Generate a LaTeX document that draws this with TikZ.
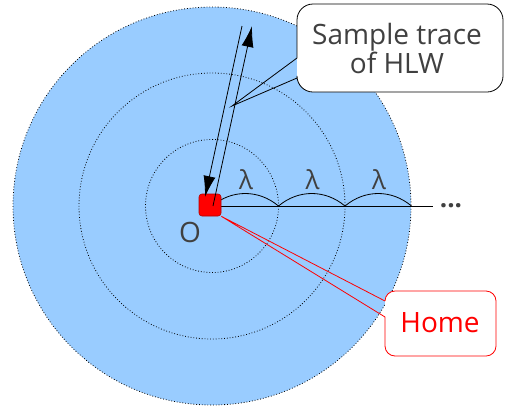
\documentclass[tikz,border=0pt]{standalone}
\usepackage{fontspec}
\usepackage{tikz}
\usetikzlibrary{arrows.meta,calc,positioning}
\newfontfamily\labelfont{Open Sans}

\begin{document}
\begin{tikzpicture}[x=1pt,y=-1pt,
  ring/.style={black, line width=0.8pt, dotted},
  hop/.style={black, line width=0.8pt},
  walk/.style={black, line width=0.8pt, -{Latex[length=21pt,width=12pt]}},
  bubble/.style={draw=black, line width=0.8pt},
  homebubble/.style={draw=homered, line width=0.8pt},
  txt/.style={font=\labelfont\fontsize{28}{29}\selectfont, text=textgray, align=center}]
% Home-locating walk (HLW) sketch: rings of radius lambda round the
% origin O, one sample trace going out and back, two callouts.
\definecolor{area}{RGB}{153, 204, 255}
\definecolor{homered}{RGB}{255, 0, 0}
\definecolor{textgray}{RGB}{64, 64, 64}
\useasboundingbox (0,0) rectangle (510,410);
\coordinate (c) at (212,206);
% shaded area and the three rings
\fill[area] (c) circle (199);
\foreach \r in {66.5, 133, 199} {
  \draw[ring] (c) circle (\r);
}
% radius split into steps of lambda
\coordinate (lineEnd) at (433,206);
\draw[hop] (c) -- (lineEnd);
\foreach \i in {0, 1, 2} {
  \draw[hop] ($(c)+(\i*66.5,0)$) to[bend left=40] ($(c)+(\i*66.5+66.5,0)$);
  \node[txt, font=\labelfont\fontsize{26}{26}\selectfont] (lam\i)
    at ($(c)+(\i*66.5+34,-26)$) {λ};
}
\node[txt, font=\labelfont\bfseries\fontsize{26}{26}\selectfont, anchor=base]
  (more) at (451,207) {...};
% origin
\node[draw=red!70!black, fill=homered, rounded corners=3pt, minimum size=22pt,
  inner sep=0pt, line width=0.6pt] (O) at (210,205) {};
\node[txt] (Olabel) at (190,232) {O};
% sample trace: out and back
\coordinate (outStart) at (213,206);
\coordinate (outEnd) at (252,26);
\coordinate (backStart) at (242,26);
\coordinate (backEnd) at (205,197);
\draw[walk] (outStart) -- (outEnd);
\draw[walk] (backStart) -- (backEnd);
% callout for the trace (box filled, pointer left open)
\coordinate (traceTip) at (232,106);
\fill[white, rounded corners=16pt] (297,4) rectangle (503,92);
\draw[bubble] (297,58) -- (traceTip) -- (297,78) [rounded corners=16pt]
  -- (297,92) -- (503,92) -- (503,4) -- (297,4) -- (297,58);
\node[txt] (trace) at (397,48) {Sample trace\\of HLW};
% callout for home
\fill[white, rounded corners=10pt] (385,291) rectangle (496,356);
\draw[homebubble] (385,301) -- (O.south east) -- (385,317) [rounded corners=10pt]
  -- (385,356) -- (496,356) -- (496,291) -- (385,291) -- (385,301);
\node[txt, text=homered] (home) at (440,323) {Home};
\end{tikzpicture}
\end{document}
